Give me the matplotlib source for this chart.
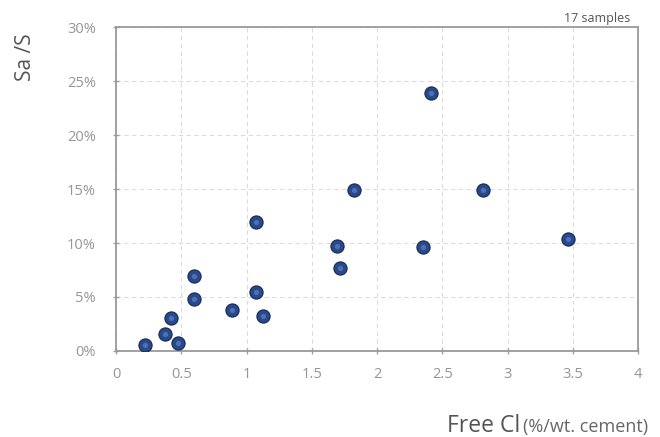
import numpy as np
import matplotlib.pyplot as plt

# Free Cl (%/wt. cement) vs Sa/S (%)
free_cl = [0.22, 0.375, 0.42, 0.475, 0.60, 0.60, 0.89, 1.07, 1.13, 1.07,
           1.69, 1.72, 1.82, 2.35, 2.41, 2.81, 3.46]
sa_s = [0.55, 1.6, 3.1, 0.7, 4.8, 6.9, 3.8, 5.5, 3.2, 11.9,
        9.7, 7.7, 14.9, 9.6, 23.9, 14.9, 10.4]

x_ticks = [0, 0.5, 1, 1.5, 2, 2.5, 3, 3.5, 4]
x_labels = ['0', '0.5', '1', '1.5', '2', '2.5', '3', '3.5', '4']
y_ticks = [0, 5, 10, 15, 20, 25, 30]
y_labels = ['0%', '5%', '10%', '15%', '20%', '25%', '30%']

plt.rcParams['font.family'] = ['Open Sans', 'DejaVu Sans']

fig = plt.figure(figsize=(6.6, 4.37), dpi=100)
ax = fig.add_axes([0.1758, 0.1968, 0.7909, 0.7414])

ax.grid(True, color='#dcdcdc', linestyle=(0, (4, 3)), linewidth=0.8)
ax.set_axisbelow(True)

ax.scatter(free_cl, sa_s, s=90, color='#284a8c', edgecolors='#15284f',
           linewidths=0.8, zorder=3)
# small highlight to mimic the glossy spheres
ax.scatter(free_cl, sa_s, s=14, color='#6a8ccc', alpha=0.6, linewidths=0,
           zorder=4)

ax.set_xlim(0, 4)
ax.set_ylim(0, 30)
ax.set_xticks(x_ticks)
ax.set_xticklabels(x_labels)
ax.set_yticks(y_ticks)
ax.set_yticklabels(y_labels)
ax.tick_params(axis='both', colors='#a0a0a0', labelcolor='#959595',
               labelsize=10.5, direction='inout', length=5, width=1)
ax.tick_params(axis='x', pad=9)
ax.tick_params(axis='y', pad=12)

for sp in ax.spines.values():
    sp.set_color('#9a9a9a')
    sp.set_linewidth(1.3)

fig.text(0.038, 0.868, 'Sa /S', rotation=90, fontsize=15, color='#555555',
         ha='center', va='center')
fig.text(0.788, 0.012, 'Free Cl', fontsize=16.5, color='#555555',
         ha='right', va='baseline')
fig.text(0.792, 0.012, '(%/wt. cement)', fontsize=13, color='#666666',
         ha='left', va='baseline')
fig.text(0.955, 0.957, '17 samples', fontsize=9, color='#555555',
         ha='right', va='center')

fig.savefig('out.png', dpi=100)
